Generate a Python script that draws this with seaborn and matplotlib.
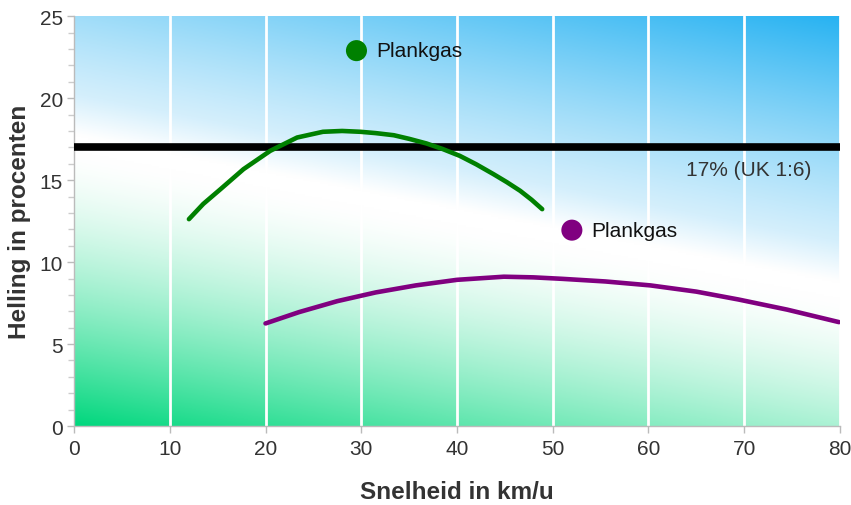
import numpy as np
import pandas as pd
import matplotlib
matplotlib.use("Agg")
import matplotlib.pyplot as plt
import seaborn as sns

# Data
green_x = [12.0, 13.5, 15.3, 17.7, 20.5, 23.3, 26.0, 28.0, 29.9, 31.5, 33.4, 35.0, 36.8, 38.5, 40.3, 42.0, 43.8, 45.2, 46.6, 47.8, 48.9]
green_y = [12.62, 13.55, 14.45, 15.67, 16.79, 17.6, 17.95, 18.0, 17.95, 17.87, 17.74, 17.52, 17.24, 16.9, 16.48, 15.97, 15.37, 14.88, 14.35, 13.8, 13.23]
purple_x = [20.0, 23.5, 27.5, 31.5, 35.7, 40.0, 44.9, 48.0, 51.0, 55.5, 60.2, 65.0, 69.4, 74.5, 79.9]
purple_y = [6.26, 6.95, 7.62, 8.15, 8.58, 8.92, 9.11, 9.07, 8.98, 8.82, 8.58, 8.2, 7.72, 7.1, 6.34]
point_labels = ["Plankgas", "Plankgas"]
point_x = [29.5, 52.0]
point_y = [22.9, 11.95]
ref_y = 17
ref_label = "17% (UK 1:6)"
x_ticks = [0, 10, 20, 30, 40, 50, 60, 70, 80]
y_ticks = [0, 5, 10, 15, 20, 25]

sns.set_theme(style="white")
plt.rcParams['font.family'] = ['Liberation Sans', 'DejaVu Sans']

fig = plt.figure(figsize=(8.51, 5.06), dpi=100)
ax = fig.add_axes([0.087, 0.156, 0.9, 0.81])

# background gradient
nx, ny = 400, 250
xs = np.linspace(0, 80, nx)
ys = np.linspace(0, 25, ny)
X, Y = np.meshgrid(xs, ys)
s = Y / 25 + 0.36 * X / 80
lo, hi = 0.67, 0.71
green = np.array([0, 215, 125]) / 255
blue = np.array([0, 166, 240]) / 255
img = np.ones((ny, nx, 3))
fg = np.clip((lo - s) / lo, 0, 1) ** 1.45
fb = np.clip((s - hi) / (1.36 - hi), 0, 1) ** 1.25
for c in range(3):
    img[..., c] = 1.0 * (1 - fg) + green[c] * fg
    img[..., c] = img[..., c] * (1 - fb) + blue[c] * fb
tint = np.clip((s - hi) / 0.1, 0, 1) * 0.25
img = img * (1 - tint[..., None]) + np.array([0.62, 0.85, 0.97]) * tint[..., None]
ax.imshow(img, origin="lower", extent=[0, 80, 0, 25], aspect="auto", zorder=0)

for xv in x_ticks[1:]:
    ax.axvline(xv, color="white", lw=2, zorder=1)

ax.plot([0, 80], [ref_y, ref_y], color="black", lw=5.5, solid_capstyle="round", zorder=3)
ax.text(70.5, ref_y - 1.35, ref_label, ha="center", va="center", fontsize=15, color="#333333", zorder=4)

dfg = pd.DataFrame({"x": green_x, "y": green_y})
dfp = pd.DataFrame({"x": purple_x, "y": purple_y})
sns.lineplot(data=dfg, x="x", y="y", ax=ax, color="#008000", lw=3.3, zorder=4, solid_capstyle="round")
sns.lineplot(data=dfp, x="x", y="y", ax=ax, color="#800080", lw=3.3, zorder=4, solid_capstyle="round")

dfpt = pd.DataFrame({"x": point_x, "y": point_y})
sns.scatterplot(data=dfpt, x="x", y="y", ax=ax, c=["#008000", "#800080"], s=230, edgecolor="none", zorder=5, legend=False)
for lx, ly, lab in zip(point_x, point_y, point_labels):
    ax.annotate(lab, (lx, ly), xytext=(14, 0), textcoords="offset points", ha="left", va="center", fontsize=15, color="#111111", zorder=6)

ax.set_xlim(0, 80)
ax.set_ylim(0, 25)
ax.set_xticks(x_ticks)
ax.set_yticks(y_ticks)
ax.set_yticks(np.arange(0, 26, 1), minor=True)
ax.tick_params(axis="both", which="major", labelsize=15, labelcolor="#333333", color="#bbbbbb", length=5, width=1, left=True, bottom=True)
ax.tick_params(axis="y", which="minor", color="#cccccc", length=4, width=1, left=True)
ax.tick_params(axis="x", pad=4)
ax.tick_params(axis="y", pad=3)
for sp in ["top", "right"]:
    ax.spines[sp].set_visible(False)
for sp in ["left", "bottom"]:
    ax.spines[sp].set_color("#bbbbbb")
    ax.spines[sp].set_linewidth(1)
ax.set_xlabel("Snelheid in km/u", fontsize=17.5, fontweight="bold", color="#333333", labelpad=16)
ax.set_ylabel("Helling in procenten", fontsize=17.5, fontweight="bold", color="#333333")
ax.yaxis.set_label_coords(-0.056, 0.5)

fig.savefig("out.png", dpi=100)
